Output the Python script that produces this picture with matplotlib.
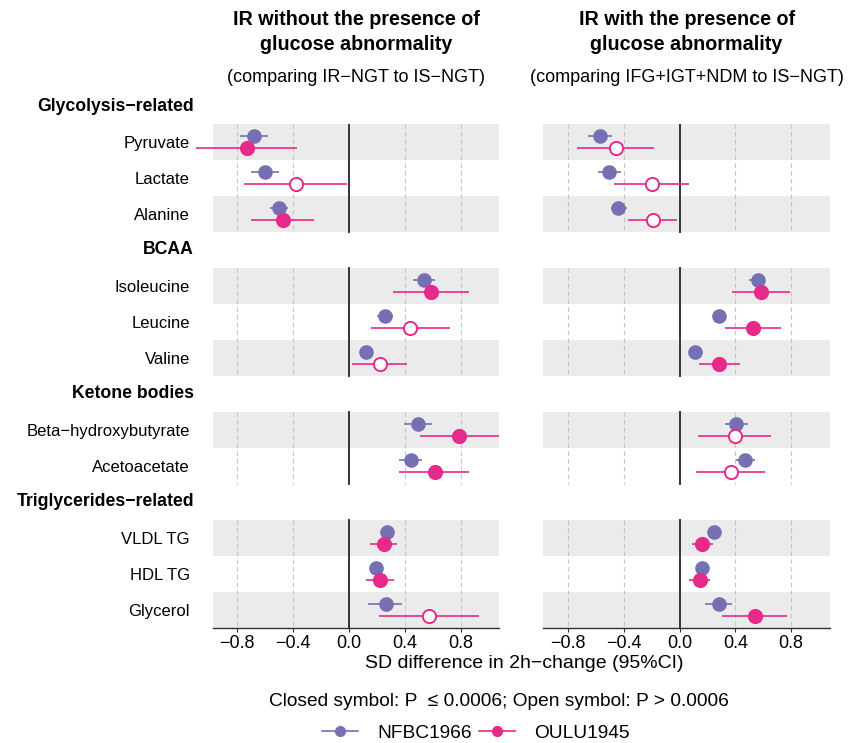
"""Forest plot: 2h-change SD differences for IR groups in NFBC1966 and OULU1945."""
import matplotlib.pyplot as plt
from matplotlib.lines import Line2D

plt.rcParams['font.family'] = ['Liberation Sans', 'DejaVu Sans']

PURPLE = "#7570B3"
PINK = "#E7298A"
BAND = "#EBEBEB"

GROUPS = ["Glycolysis−related", "BCAA", "Ketone bodies", "Triglycerides−related"]
GROUP_SIZES = [3, 3, 2, 3]
METABOLITES = ["Pyruvate", "Lactate", "Alanine",
               "Isoleucine", "Leucine", "Valine",
               "Beta−hydroxybutyrate", "Acetoacetate",
               "VLDL TG", "HDL TG", "Glycerol"]

TITLES = ["IR without the presence of\nglucose abnormality",
          "IR with the presence of\nglucose abnormality"]
SUBTITLES = ["(comparing IR−NGT to IS−NGT)",
             "(comparing IFG+IGT+NDM to IS−NGT)"]

# left panel: IR-NGT vs IS-NGT
nfbc_est_1 = [-0.68, -0.605, -0.505, 0.538, 0.257, 0.119, 0.493, 0.443, 0.276, 0.195, 0.267]
nfbc_lo_1 = [-0.78, -0.70, -0.565, 0.46, 0.198, 0.08, 0.393, 0.36, 0.24, 0.16, 0.138]
nfbc_hi_1 = [-0.58, -0.505, -0.44, 0.62, 0.317, 0.16, 0.595, 0.524, 0.31, 0.23, 0.383]
oulu_est_1 = [-0.73, -0.383, -0.474, 0.588, 0.44, 0.221, 0.788, 0.617, 0.25, 0.221, 0.574]
oulu_lo_1 = [-1.096, -0.755, -0.70, 0.317, 0.157, 0.024, 0.507, 0.36, 0.152, 0.121, 0.214]
oulu_hi_1 = [-0.37, -0.012, -0.248, 0.864, 0.726, 0.419, 1.077, 0.864, 0.345, 0.321, 0.936]
oulu_sig_1 = [True, False, True, True, False, False, True, True, True, True, False]

# right panel: IFG+IGT+NDM vs IS-NGT
nfbc_est_2 = [-0.574, -0.505, -0.438, 0.559, 0.285, 0.112, 0.407, 0.471, 0.245, 0.164, 0.281]
nfbc_lo_2 = [-0.655, -0.588, -0.493, 0.497, 0.25, 0.08, 0.324, 0.402, 0.21, 0.13, 0.185]
nfbc_hi_2 = [-0.488, -0.419, -0.379, 0.612, 0.32, 0.145, 0.49, 0.543, 0.28, 0.2, 0.378]
oulu_est_2 = [-0.457, -0.198, -0.193, 0.583, 0.526, 0.281, 0.395, 0.366, 0.164, 0.145, 0.54]
oulu_lo_2 = [-0.734, -0.467, -0.367, 0.374, 0.326, 0.138, 0.135, 0.119, 0.088, 0.066, 0.305]
oulu_hi_2 = [-0.181, 0.069, -0.022, 0.793, 0.728, 0.431, 0.659, 0.609, 0.24, 0.219, 0.771]
oulu_sig_2 = [False, False, False, True, True, True, False, False, True, True, True]

XTICKS = [-0.8, -0.4, 0.0, 0.4, 0.8]
XLIM = (-0.977, 1.078)


def row_layout():
    # header rows take a slot of their own; first header sits above the axes
    header_y, met_y, spans = [], [], []
    y = -1
    for size in GROUP_SIZES:
        header_y.append(y)
        rows = list(range(y + 1, y + 1 + size))
        met_y.extend(rows)
        spans.append((rows[0] - 0.5, rows[-1] + 0.5))
        y += size + 1
    return header_y, met_y, spans


def draw_panel(ax, met_y, spans, nfbc, oulu, sig):
    k = 0
    for size in GROUP_SIZES:
        for j in range(size):
            if j % 2 == 0:
                y = met_y[k + j]
                ax.axhspan(y - 0.5, y + 0.5, color=BAND, lw=0, zorder=0)
        k += size

    for top, bottom in spans:
        for xv in XTICKS:
            if xv == 0:
                ax.plot([0, 0], [top, bottom], color="#333333", lw=1.4, zorder=1)
            else:
                ax.plot([xv, xv], [top, bottom], color="#C4C4C4", lw=0.8,
                        ls=(0, (4, 3)), zorder=1)

    est, lo, hi = nfbc
    for y, e, a, b in zip(met_y, est, lo, hi):
        ax.plot([a, b], [y - 0.17] * 2, color=PURPLE, lw=1.2, zorder=2,
                solid_capstyle="butt", clip_on=False)
        ax.plot(e, y - 0.17, "o", ms=9.5, color=PURPLE, zorder=3)

    est, lo, hi = oulu
    for y, e, a, b, s in zip(met_y, est, lo, hi, sig):
        ax.plot([a, b], [y + 0.17] * 2, color=PINK, lw=1.2, zorder=2,
                solid_capstyle="butt", clip_on=False)
        ax.plot(e, y + 0.17, "o", ms=9.5, mec=PINK, mew=1.4,
                mfc=PINK if s else "white", zorder=4)

    ax.set_xlim(*XLIM)
    ax.set_ylim(13.5, -0.5)
    ax.set_xticks(XTICKS)
    ax.set_xticklabels([f"{v:.1f}".replace("-", "\u2212") for v in XTICKS])
    ax.set_yticks([])
    for side in ("left", "right", "top"):
        ax.spines[side].set_visible(False)
    ax.spines["bottom"].set_color("#333333")
    ax.spines["bottom"].set_linewidth(1.0)
    ax.tick_params(axis="x", labelsize=13, length=3, color="#333333",
                   labelcolor="black", pad=2.5)


def main():
    fig = plt.figure(figsize=(8.48, 7.43), dpi=100)
    header_y, met_y, spans = row_layout()

    ax1 = fig.add_axes([0.2508, 0.1552, 0.338, 0.6779])
    ax2 = fig.add_axes([0.6407, 0.1552, 0.338, 0.6779])

    draw_panel(ax1, met_y, spans, (nfbc_est_1, nfbc_lo_1, nfbc_hi_1),
               (oulu_est_1, oulu_lo_1, oulu_hi_1), oulu_sig_1)
    draw_panel(ax2, met_y, spans, (nfbc_est_2, nfbc_lo_2, nfbc_hi_2),
               (oulu_est_2, oulu_lo_2, oulu_hi_2), oulu_sig_2)

    # row labels and group headers to the left of the first panel
    trans = ax1.get_yaxis_transform()
    for name, y in zip(METABOLITES, met_y):
        ax1.text(-0.08, y + 0.04, name, transform=trans, ha="right", va="center",
                 fontsize=12, clip_on=False)
    for name, y in zip(GROUPS, header_y):
        ax1.text(-0.065, y, name, transform=trans, ha="right", va="center",
                 fontsize=12.7, fontweight="bold", clip_on=False)

    for ax, title, sub in zip((ax1, ax2), TITLES, SUBTITLES):
        pos = ax.get_position()
        xc = (pos.x0 + pos.x1) / 2
        fig.text(xc, 1 - 32 / 743, title, ha="center", va="center",
                 fontsize=14.2, fontweight="bold", linespacing=1.4)
        fig.text(xc, 1 - 77 / 743, sub, ha="center", va="center", fontsize=13)

    fig.text(524 / 848, 1 - 664 / 743, "SD difference in 2h−change (95%CI)",
             ha="center", va="center", fontsize=14)
    fig.text(499 / 848, 1 - 702 / 743,
             "Closed symbol: P  ≤ 0.0006; Open symbol: P > 0.0006",
             ha="center", va="center", fontsize=13.8)

    handles = [Line2D([], [], color=PURPLE, lw=1.2, marker="o", ms=7),
               Line2D([], [], color=PINK, lw=1.2, marker="o", ms=7)]
    fig.legend(handles, ["NFBC1966", "OULU1945"], ncol=2, frameon=False,
               loc="center", bbox_to_anchor=(476 / 848, 1 - 733 / 743),
               fontsize=13.8, handlelength=1.85, handletextpad=1.0,
               columnspacing=0.4, borderpad=0, borderaxespad=0)

    fig.savefig("out.png", dpi=100)
    plt.close(fig)


if __name__ == "__main__":
    main()
